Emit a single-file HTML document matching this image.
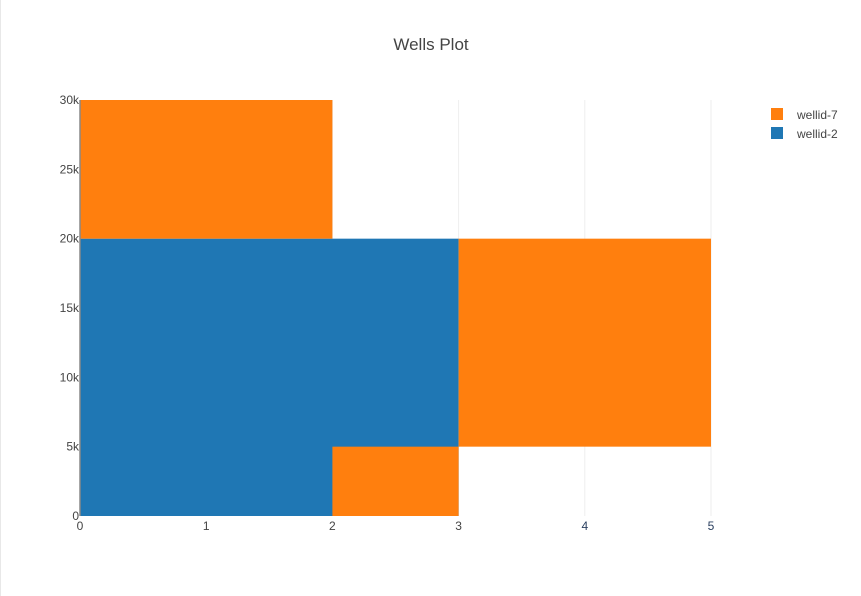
<!DOCTYPE html>
<html><head><meta charset="utf-8"><style>
body{margin:0;background:#fff;}
svg{display:block;font-family:"Liberation Sans",Arial,sans-serif;}
</style></head><body>
<svg id="chart" width="861" height="596">
<rect x="0" y="0" width="861" height="596" fill="#fff"/>
<line x1="0.5" y1="0" x2="0.5" y2="596" stroke="#e8e8e8"/>
<text x="431" y="50" text-anchor="middle" font-size="17" fill="#444">Wells Plot</text>
<g id="grid"></g><g id="marks"></g><g id="axes"></g>
<g>
<g><rect x="771" y="108" width="12" height="12" fill="#ff7f0e"/><text x="797" y="119" font-size="12" fill="#444">wellid-7</text></g>
<g><rect x="771" y="127" width="12" height="12" fill="#1f77b4"/><text x="797" y="138" font-size="12" fill="#444">wellid-2</text></g>
</g>
</svg>
<script>
const xTicks=[0,1,2,3,4,5];
const yTicks=[0,5000,10000,15000,20000,25000,30000];
const yTickLabels=["0","5k","10k","15k","20k","25k","30k"];
const rectSeries=["wellid-2","wellid-7","wellid-7","wellid-7"];
const rectX0=[0,0,2,3];
const rectX1=[3,2,3,5];
const rectY0=[0,20000,0,5000];
const rectY1=[20000,30000,5000,20000];
const colors={"wellid-2":"#1f77b4","wellid-7":"#ff7f0e"};
const X=v=>80+v*(711-80)/5;
const Y=v=>516-v*(516-100)/30000;
const NS="http://www.w3.org/2000/svg";
function mk(t,a,p){const e=document.createElementNS(NS,t);for(const k in a)e.setAttribute(k,a[k]);p.appendChild(e);return e;}
const grid=document.getElementById('grid'),marks=document.getElementById('marks'),axes=document.getElementById('axes');
xTicks.forEach(v=>{if(v===0)return;const l=mk('line',{x1:X(v),x2:X(v),y1:Y(30000),y2:Y(0),stroke:'#eee'},grid);

});
rectSeries.forEach((s,i)=>{const r=mk('rect',{x:X(rectX0[i]),y:Y(rectY1[i]),width:X(rectX1[i])-X(rectX0[i]),height:Y(rectY0[i])-Y(rectY1[i]),fill:colors[s]},marks);

});
const ax=mk('line',{x1:80,x2:80,y1:Y(30000),y2:Y(0),stroke:'#888','stroke-width':1.5},axes);


yTicks.forEach((v,i)=>{const t=mk('text',{x:79,y:Y(v)+4,'text-anchor':'end','font-size':12,fill:'#444'},axes);t.textContent=yTickLabels[i];

});
xTicks.forEach(v=>{const t=mk('text',{x:X(v),y:530,'text-anchor':'middle','font-size':12,fill:v>3?'#2a3f5f':'#444'},axes);t.textContent=String(v);

});
</script>
</body></html>
